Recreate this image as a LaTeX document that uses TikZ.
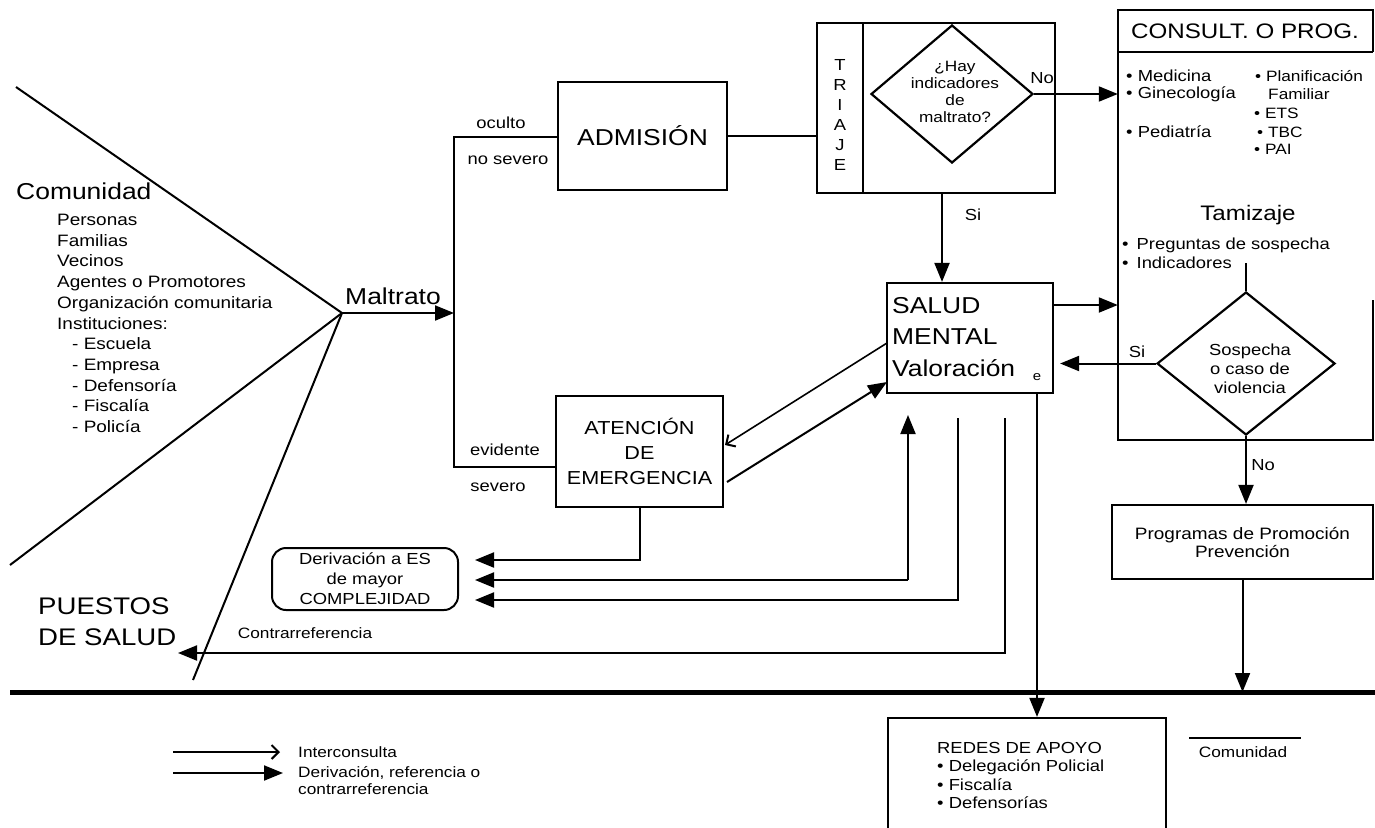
\documentclass[tikz,border=0pt]{standalone}
\usepackage{fontspec}
\setmainfont{Liberation Sans}[FakeStretch=1.15]
\usetikzlibrary{arrows.meta,shapes.geometric}
\begin{document}
\begin{tikzpicture}[x=1pt,y=-1pt,
  box/.style={draw,line width=2.2pt,inner sep=0pt},
  dia/.style={draw,line width=2.2pt,diamond,inner sep=0pt},
  ln/.style={line width=2pt},
  farr/.style={line width=2pt,-{Triangle[length=19pt,width=15pt]}},
  iarr/.style={line width=1.6pt,-{Straight Barb[length=7pt,width=14pt,line width=2pt]}},
  s15/.style={inner sep=0pt,font=\fontsize{15}{17}\selectfont},
  s16/.style={inner sep=0pt,font=\fontsize{16}{19}\selectfont},
  slist/.style={inner sep=0pt,font=\fontsize{16.5}{20.7}\selectfont},
  s23/.style={inner sep=0pt,font=\fontsize{23}{30}\selectfont}]
\useasboundingbox (0,0) rectangle (1375,827);
\fill[white] (0,0) rectangle (1375,827);

% community wedge
\coordinate (apex) at (342,313);
\coordinate (vtop) at (16,87);
\coordinate (vbot) at (10,565);
\coordinate (vps) at (193,680);
\draw[ln] (vtop) -- (apex) -- (vbot);
\draw[ln] (apex) -- (vps);
\node[s23,anchor=west] (comunidad) at (16,191) {Comunidad};
\node[slist,anchor=north west,align=left] (lista) at (57,214) {Personas\\Familias\\Vecinos\\Agentes o Promotores\\Organización comunitaria\\Instituciones:\\\hspace*{15pt}- Escuela\\\hspace*{15pt}- Empresa\\\hspace*{15pt}- Defensoría\\\hspace*{15pt}- Fiscalía\\\hspace*{15pt}- Policía};
\node[s23] (maltrato) at (393,296) {Maltrato};
\coordinate (vl) at (454,313);
\draw[farr] (apex) -- (vl);

% boxes
\node[box,minimum width=169pt,minimum height=108pt,font=\fontsize{23}{28}\selectfont] (adm) at (642.5,136) {ADMISIÓN};
\node[box,minimum width=167pt,minimum height=111pt,align=center,font=\fontsize{18.8}{25}\selectfont] (aten) at (639.5,451.5) {ATENCIÓN\\DE\\EMERGENCIA};
\coordinate (vtopl) at (454,137);
\coordinate (vbotl) at (454,467);
\draw[ln] (vtopl -| adm.west) -- (vtopl) -- (vbotl) -- (vbotl -| aten.west);
\node[s16] (oculto) at (501,123) {oculto};
\node[s16] (nosev) at (508,160) {no severo};
\node[s16] (evid) at (505,450) {evidente};
\node[s16] (sev) at (498,487) {severo};

% triaje
\node[box,minimum width=238pt,minimum height=170pt] (tri) at (936,108) {};
\draw[ln] (863,23) -- (863,193);
\node[s16,align=center,font=\fontsize{16}{20}\selectfont] (triaje) at (840,115) {T\\R\\I\\A\\J\\E};
\draw[ln] (adm.east) -- (adm.east -| tri.west);
\node[dia,minimum width=162pt,minimum height=138pt] (hay) at (952,94) {};
\node[s15,align=center] (haytxt) at (955,92) {¿Hay\\indicadores\\de\\maltrato?};
\node[s16] (no1) at (1042,78) {No};

% consult box
\node[minimum width=255pt,minimum height=430pt,inner sep=0pt] (cons) at (1245.5,225) {};
\draw[ln] ([yshift=-42pt]cons.north east) -- (cons.north east) -- (cons.north west) -- (cons.south west) -- (cons.south east) -- ([yshift=140pt]cons.south east);
\draw[ln] ([yshift=-42pt]cons.north west) -- ([yshift=-42pt]cons.north east);
\node[inner sep=0pt,font=\fontsize{21}{24}\selectfont] (constit) at (1245,31) {CONSULT. O PROG.};
\draw[farr] (hay.east) -- (hay.east -| cons.west);
\node[s16,anchor=west] (med) at (1126,76) {• Medicina};
\node[s16,anchor=west] (gin) at (1126,94) {• Ginecología};
\node[s16,anchor=west] (ped) at (1126,132) {• Pediatría};
\node[s15,anchor=west] (plan) at (1255,76) {• Planificación};
\node[s15,anchor=west] (fam) at (1268,94) {Familiar};
\node[s15,anchor=west] (ets) at (1254,113) {• ETS};
\node[s15,anchor=west] (tbc) at (1257,132) {• TBC};
\node[s15,anchor=west] (pai) at (1254,149) {• PAI};
\node[inner sep=0pt,font=\fontsize{21}{24}\selectfont] (tam) at (1248,215) {Tamizaje};
\node[s16,anchor=west] (preg) at (1122,245) {•\hspace{8pt}Preguntas de sospecha};
\node[s16,anchor=west] (ind) at (1122,263) {•\hspace{8pt}Indicadores};

% sospecha
\node[dia,minimum width=178pt,minimum height=143pt] (sosp) at (1246,363.5) {};
\node[s16,align=center] (sosptxt) at (1250,369) {Sospecha\\o caso de\\violencia};
\coordinate (indend) at (1246,263);
\draw[ln] (indend) -- (sosp.north);

% salud mental
\node[box,minimum width=166pt,minimum height=110pt] (sal) at (970,338) {};
\node[anchor=north west,align=left,inner sep=0pt,font=\fontsize{23}{31.5}\selectfont] (saltxt) at (892,297) {SALUD\\MENTAL\\Valoración};
\node[inner sep=0pt,font=\fontsize{13}{13}\selectfont] (esub) at (1037,377) {e};
\node[s16] (si1) at (973,215) {Si};
\coordinate (sitop) at (942,193);
\draw[farr] (sitop) -- (sitop |- sal.north);
\coordinate (s2c) at (1053,305);
\draw[farr] (s2c) -- (s2c -| cons.west);
\node[s16] (si2) at (1137,352) {Si};
\draw[farr,shorten >=6pt] (sosp.west) -- (sosp.west -| sal.east);

% atencion <-> salud
\coordinate (ic1) at (887,343);
\coordinate (ic2) at (725,445);
\draw[iarr] (ic1) -- (ic2);
\coordinate (d1) at (727,482);
\coordinate (d2) at (887,382);
\draw[farr] (d1) -- (d2);

% programas
\node[box,minimum width=261pt,minimum height=74pt,align=center,font=\fontsize{16.5}{18}\selectfont] (prog) at (1242.5,542) {Programas de Promoción\\Prevención};
\node[s16] (no2) at (1263,465) {No};
\draw[farr] (sosp.south) -- (sosp.south |- prog.north);

% derivacion
\node[draw,line width=2pt,rounded corners=14pt,minimum width=186pt,minimum height=62pt,inner sep=0pt,align=center,font=\fontsize{16}{20}\selectfont] (deriv) at (365,579) {Derivación a ES\\de mayor\\COMPLEJIDAD};
\coordinate (dtip1) at (475,560);
\coordinate (dtip2) at (475,580);
\coordinate (dtip3) at (475,600);
\draw[farr] (aten.south) |- (dtip1);
\coordinate (k2) at (908,580);
\coordinate (up2) at (908,415);
\draw[farr] (k2) -- (dtip2);
\draw[farr] (k2) -- (up2);
\coordinate (t3) at (958,418);
\coordinate (k3) at (958,600);
\draw[farr] (t3) -- (k3) -- (dtip3);
\coordinate (t4) at (1005,418);
\coordinate (k4) at (1005,653);
\coordinate (ptip) at (178,653);
\draw[farr] (t4) -- (k4) -- (ptip);
\node[s15] (contra) at (305,633) {Contrarreferencia};
\node[anchor=north west,align=left,inner sep=0pt,font=\fontsize{24}{31}\selectfont] (puestos) at (38,598) {PUESTOS\\DE SALUD};

% thick line and redes
\coordinate (tl1) at (10,692);
\coordinate (tl2) at (1375,692);
\draw[line width=5pt] (tl1) -- (tl2);
\draw[farr] (prog.south) -- (prog.south |- tl1);
\node[box,minimum width=278pt,minimum height=122pt] (redes) at (1027,779) {};
\node[anchor=north west,align=left,inner sep=0pt,font=\fontsize{16}{18.5}\selectfont] (redestxt) at (937,742) {REDES DE APOYO\\• Delegación Policial\\• Fiscalía\\• Defensorías};
\coordinate (t5) at (1037,393);
\draw[farr] (t5) -- (t5 |- redes.north);
\coordinate (cl1) at (1189,738);
\coordinate (cl2) at (1301,738);
\draw[line width=1.5pt] (cl1) -- (cl2);
\node[s15] (comu2) at (1243,752) {Comunidad};

% legend
\coordinate (l1a) at (173,752);
\coordinate (l1b) at (280,752);
\draw[iarr] (l1a) -- (l1b);
\node[s15,anchor=west] (leg1) at (298,752) {Interconsulta};
\coordinate (l2a) at (173,773);
\coordinate (l2b) at (283,773);
\draw[farr] (l2a) -- (l2b);
\node[s15,anchor=north west,align=left] (leg2) at (298,766) {Derivación, referencia o\\contrarreferencia};
\end{tikzpicture}
\end{document}
